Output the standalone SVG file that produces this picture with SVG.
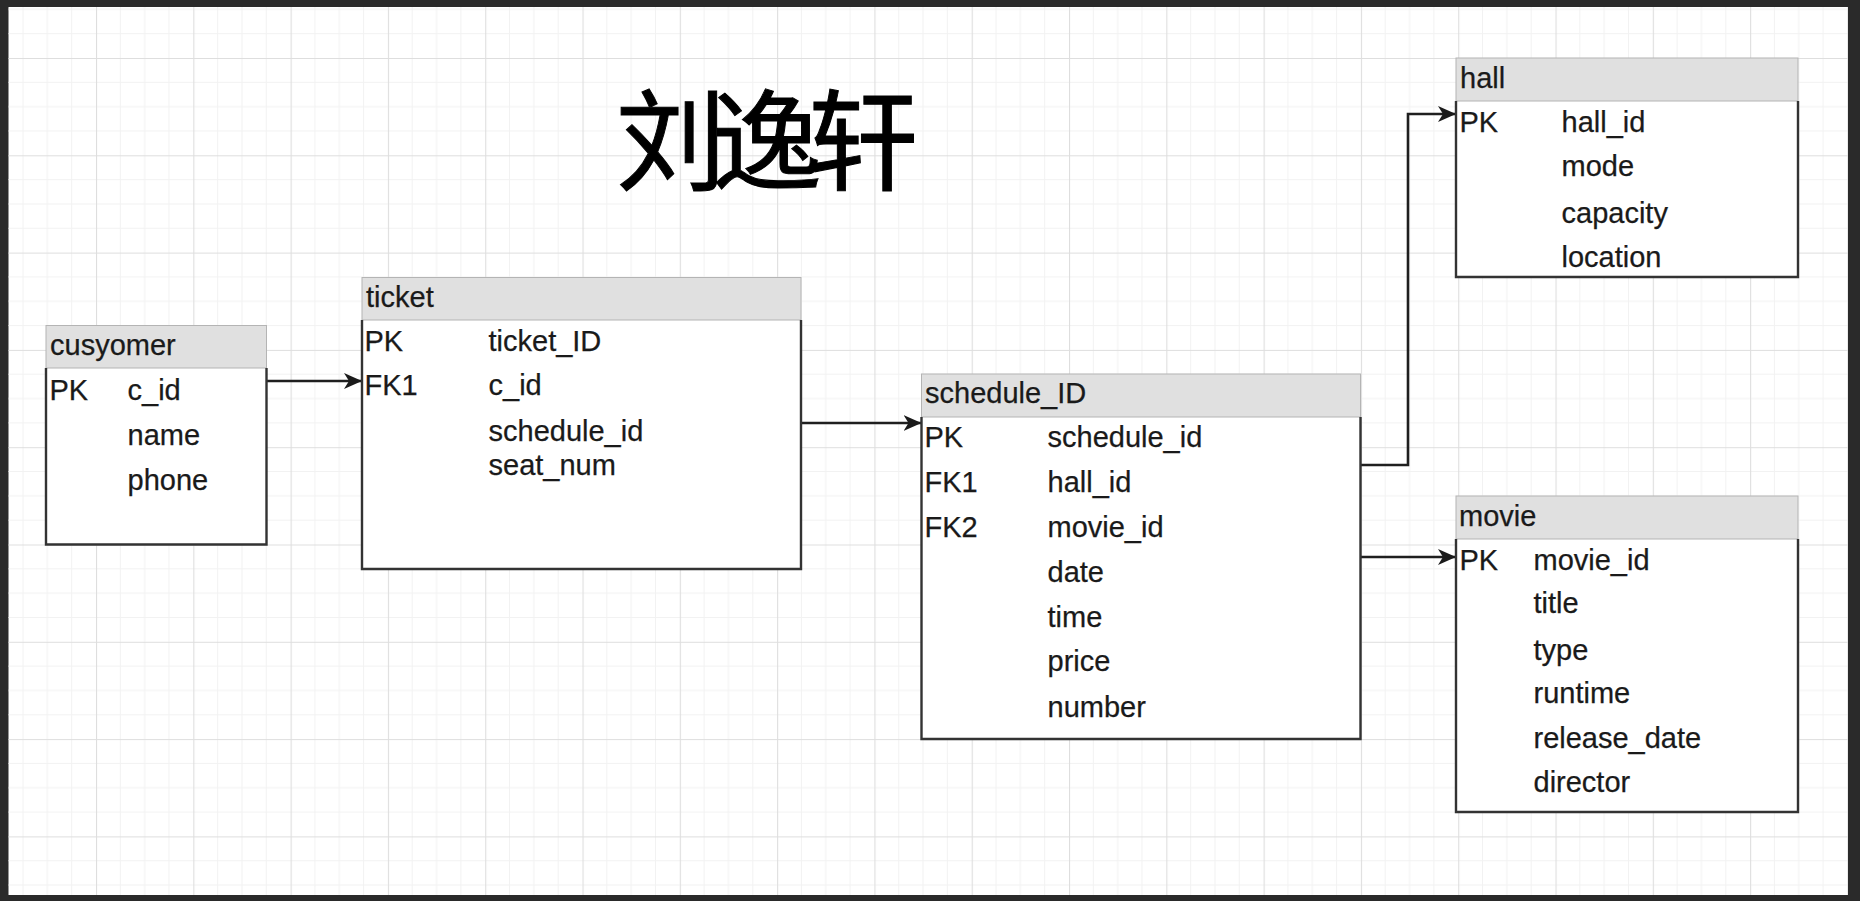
<svg xmlns="http://www.w3.org/2000/svg" width="1860" height="901" viewBox="0 0 1860 901">
<defs>
<pattern id="grid" patternUnits="userSpaceOnUse" x="-1.3" y="-39.3" width="97.3" height="97.3">
<path d="M24.3,0V97.3M48.65,0V97.3M73,0V97.3M0,24.3H97.3M0,48.65H97.3M0,73H97.3" stroke="#f2f2f2" stroke-width="1" fill="none"/>
<path d="M0.5,0V97.3M0,0.5H97.3" stroke="#dedede" stroke-width="1.2" fill="none"/>
</pattern>
<marker id="arr" markerUnits="userSpaceOnUse" markerWidth="18" markerHeight="16" refX="18" refY="8" orient="auto">
<path d="M0,0 L18,8 L0,16 L5,8 z" fill="#1a1a1a"/>
</marker>
</defs>
<style>
.hdr{fill:#e0e0e0;stroke:#b4b4b4;stroke-width:1}
.body{fill:#ffffff;stroke:none}
.edge{fill:none;stroke:#333333;stroke-width:2.4}
.t{font-family:"Liberation Sans",Arial,sans-serif;font-size:29px;fill:#1a1a1a;stroke:#1a1a1a;stroke-width:0.25}
.conn{fill:none;stroke:#1f1f1f;stroke-width:2.6}
.sig{font-family:"Noto Sans CJK SC","Noto Sans CJK JP",sans-serif;font-size:110px;fill:#000;stroke:#000;stroke-width:1}
</style>
<rect x="0" y="0" width="1860" height="901" fill="#2a2a2a"/>
<rect x="8.5" y="7" width="1839.5" height="888" fill="#ffffff"/>
<rect x="8.5" y="7" width="1839.5" height="888" fill="url(#grid)"/>

<text class="sig" x="616" y="182" letter-spacing="-14">刘逸轩</text>

<g id="connectors">
<path class="conn" d="M266,381 H362" marker-end="url(#arr)"/>
<path class="conn" d="M801,423 H921.5" marker-end="url(#arr)"/>
<path class="conn" d="M1360.5,465 H1408 V114 H1456" marker-end="url(#arr)"/>
<path class="conn" d="M1360.5,557 H1456" marker-end="url(#arr)"/>
</g>

<g id="cusyomer">
<rect class="body" x="46" y="368" width="220.5" height="176.5"/>
<rect class="hdr" x="46" y="325.5" width="220.5" height="42.5"/>
<path class="edge" d="M46,368 V544.5 H266.5 V368"/>
<text class="t" x="50" y="355">cusyomer</text>
<text class="t" x="49.5" y="400">PK</text>
<text class="t" x="127.5" y="400">c_id</text>
<text class="t" x="127.5" y="444.5">name</text>
<text class="t" x="127.5" y="490">phone</text>
</g>

<g id="ticket">
<rect class="body" x="362" y="320" width="439" height="249"/>
<rect class="hdr" x="362" y="277.5" width="439" height="42.5"/>
<path class="edge" d="M362,320 V569 H801 V320"/>
<text class="t" x="366" y="306.5">ticket</text>
<text class="t" x="364.5" y="351">PK</text>
<text class="t" x="488.5" y="351">ticket_ID</text>
<text class="t" x="364.5" y="395">FK1</text>
<text class="t" x="488.5" y="395">c_id</text>
<text class="t" x="488.5" y="441">schedule_id</text>
<text class="t" x="488.5" y="474.5">seat_num</text>
</g>

<g id="schedule_ID">
<rect class="body" x="921.5" y="417" width="439" height="322"/>
<rect class="hdr" x="921.5" y="374" width="439" height="43"/>
<path class="edge" d="M921.5,417 V739 H1360.5 V417"/>
<text class="t" x="925" y="403">schedule_ID</text>
<text class="t" x="924.5" y="447">PK</text>
<text class="t" x="1047.5" y="447">schedule_id</text>
<text class="t" x="924.5" y="491.5">FK1</text>
<text class="t" x="1047.5" y="491.5">hall_id</text>
<text class="t" x="924.5" y="537">FK2</text>
<text class="t" x="1047.5" y="537">movie_id</text>
<text class="t" x="1047.5" y="581.5">date</text>
<text class="t" x="1047.5" y="626.5">time</text>
<text class="t" x="1047.5" y="670.5">price</text>
<text class="t" x="1047.5" y="716.5">number</text>
</g>

<g id="hall">
<rect class="body" x="1456" y="101" width="342" height="176"/>
<rect class="hdr" x="1456" y="58" width="342" height="43"/>
<path class="edge" d="M1456,101 V277 H1798 V101"/>
<text class="t" x="1460" y="87.5">hall</text>
<text class="t" x="1459.5" y="131.5">PK</text>
<text class="t" x="1561.5" y="131.5">hall_id</text>
<text class="t" x="1561.5" y="176">mode</text>
<text class="t" x="1561.5" y="222.5">capacity</text>
<text class="t" x="1561.5" y="266.5">location</text>
</g>

<g id="movie">
<rect class="body" x="1456" y="539" width="342" height="273"/>
<rect class="hdr" x="1456" y="496" width="342" height="43"/>
<path class="edge" d="M1456,539 V812 H1798 V539"/>
<text class="t" x="1459" y="526">movie</text>
<text class="t" x="1459.5" y="570">PK</text>
<text class="t" x="1533.5" y="570">movie_id</text>
<text class="t" x="1533.5" y="613">title</text>
<text class="t" x="1533.5" y="660">type</text>
<text class="t" x="1533.5" y="703">runtime</text>
<text class="t" x="1533.5" y="748">release_date</text>
<text class="t" x="1533.5" y="792">director</text>
</g>
</svg>
